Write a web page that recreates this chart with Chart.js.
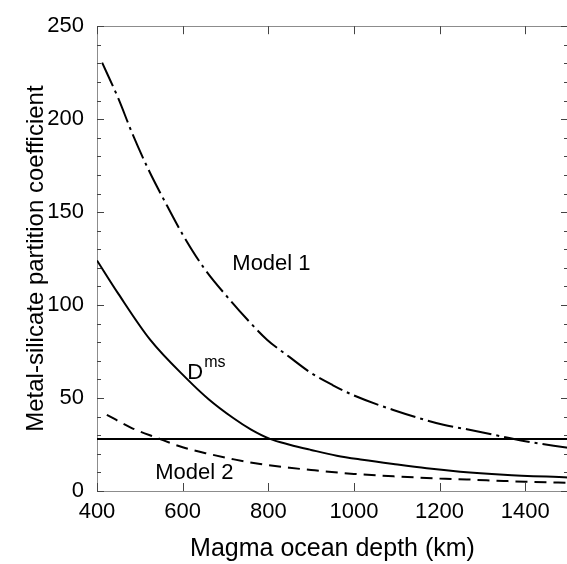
<!DOCTYPE html>
<html><head><meta charset="utf-8">
<script src="https://cdn.jsdelivr.net/npm/chart.js@4.4.1/dist/chart.umd.min.js"></script>
<style>html,body{margin:0;padding:0;background:#fff;overflow:hidden}</style>
</head><body>
<canvas id="c" width="570" height="564"></canvas>
<script>
// ---- data ----
const dmsDepth   = [400, 450, 524, 610, 660, 719, 760, 804, 850, 900, 960, 1020, 1092, 1170, 1248, 1350, 1500];
const dmsValue   = [124, 106, 81.4, 60.3, 49.5, 39.1, 33.0, 28.0, 24.9, 22.1, 19.0, 16.8, 14.5, 12.2, 10.4, 8.8, 7.3];

const model1Depth = [412, 450, 482, 520, 563, 600, 649, 711, 750, 797, 850, 898, 950, 999, 1092, 1209, 1264, 1325, 1400, 1500];
const model1Value = [230.4, 211, 192.5, 173, 153.7, 138, 120.2, 102.6, 92.5, 81.4, 72, 63.8, 57, 51.5, 43.6, 35.6, 33.2, 30.3, 26.8, 23.2];

const model2Depth = [423, 480, 540, 600, 664, 720, 781, 850, 900, 1000, 1100, 1200, 1264, 1350, 1400, 1500];
const model2Value = [41, 34, 28.6, 23.5, 19.8, 17, 14.5, 12.5, 11.3, 9.2, 7.8, 6.7, 6.2, 5.4, 5.0, 4.4];

const refDepth = [400, 1500];
const refValue = [28, 28];

const xTickValues = [400, 600, 800, 1000, 1200, 1400];
const yTickValues = [0, 50, 100, 150, 200, 250];
const yMinorValues = [0,10,20,30,40,50,60,70,80,90,100,110,120,130,140,150,160,170,180,190,200,210,220,230,240,250];

const xTitle = 'Magma ocean depth (km)';
const yTitle = 'Metal-silicate partition coefficient';

const FONT = "'Liberation Sans', Arial, Helvetica, sans-serif";

function pts(xs, ys) { return xs.map((v, i) => ({x: v, y: ys[i]})); }

const framePlugin = {
  id: 'frame',
  beforeDatasetsDraw(chart) {
    const {ctx, chartArea: a, scales: {x, y}} = chart;
    ctx.save();
    ctx.strokeStyle = '#8c8c8c';
    ctx.lineWidth = 1;
    ctx.strokeRect(Math.round(a.left) + 0.5, Math.round(a.top) + 0.5,
                   Math.round(a.right - a.left), Math.round(a.bottom - a.top));
    ctx.strokeStyle = '#444';
    ctx.beginPath();
    xTickValues.forEach(v => {
      const px = Math.round(x.getPixelForValue(v)) + 0.5;
      ctx.moveTo(px, a.bottom); ctx.lineTo(px, a.bottom - 8);
      ctx.moveTo(px, a.top); ctx.lineTo(px, a.top + 8);
    });
    yMinorValues.forEach(v => {
      const py = Math.round(y.getPixelForValue(v)) + 0.5;
      const len = (v % 50 === 0) ? 7 : 4;
      ctx.moveTo(a.left, py); ctx.lineTo(a.left + len, py);
      ctx.moveTo(a.right, py); ctx.lineTo(a.right - len, py);
    });
    ctx.stroke();
    ctx.restore();
  },
  afterDraw(chart) {
    const {ctx, scales: {x, y}} = chart;
    ctx.save();
    ctx.fillStyle = '#000';
    ctx.textBaseline = 'alphabetic';
    ctx.textAlign = 'left';
    ctx.font = '22px ' + FONT;
    ctx.fillText('Model 1', x.getPixelForValue(716), y.getPixelForValue(118.8));
    ctx.fillText('Model 2', x.getPixelForValue(536), y.getPixelForValue(6.7));
    const dx = x.getPixelForValue(611), dy = y.getPixelForValue(60.3);
    ctx.fillText('D', dx, dy);
    const w = ctx.measureText('D').width;
    ctx.font = '16px ' + FONT;
    ctx.fillText('ms', dx + w + 1, dy - 12);
    ctx.restore();
  }
};

new Chart(document.getElementById('c'), {
  type: 'line',
  data: {
    datasets: [
      {label: 'Model 1', data: pts(model1Depth, model1Value), borderColor: '#000', borderWidth: 2,
       borderDash: [26, 5, 3, 5], pointRadius: 0, cubicInterpolationMode: 'monotone', fill: false},
      {label: 'Dms', data: pts(dmsDepth, dmsValue), borderColor: '#000', borderWidth: 2,
       pointRadius: 0, cubicInterpolationMode: 'monotone', fill: false},
      {label: 'Model 2', data: pts(model2Depth, model2Value), borderColor: '#000', borderWidth: 2,
       borderDash: [12, 7], pointRadius: 0, cubicInterpolationMode: 'monotone', fill: false},
      {label: 'ref', data: pts(refDepth, refValue), borderColor: '#000', borderWidth: 2,
       pointRadius: 0, fill: false}
    ]
  },
  options: {
    responsive: false,
    animation: false,
    events: [],
    layout: {padding: {top: 18, right: 2, left: 0, bottom: 0}},
    plugins: {legend: {display: false}, tooltip: {enabled: false}},
    scales: {
      x: {
        type: 'linear', min: 400, max: 1500,
        afterBuildTicks: s => { s.ticks = xTickValues.map(v => ({value: v})); },
        afterFit: s => { s.height = 73; },
        grid: {display: false, drawTicks: false},
        border: {display: false},
        ticks: {padding: 8, color: '#000', font: {family: FONT, size: 22}, maxRotation: 0,
                callback: v => String(v)},
        title: {display: true, text: xTitle, color: '#000', font: {family: FONT, size: 25},
                padding: {top: 0, bottom: 0}}
      },
      y: {
        type: 'linear', min: 0, max: 250,
        afterBuildTicks: s => { s.ticks = yTickValues.map(v => ({value: v})); },
        afterFit: s => { s.width = 97; },
        grid: {display: false, drawTicks: false},
        border: {display: false},
        ticks: {padding: 13, color: '#000', font: {family: FONT, size: 22},
                callback: v => String(v)},
        title: {display: true, text: yTitle, color: '#000', font: {family: FONT, size: 24},
                padding: {top: 22, bottom: 0}}
      }
    }
  },
  plugins: [framePlugin]
});
</script>
</body></html>
